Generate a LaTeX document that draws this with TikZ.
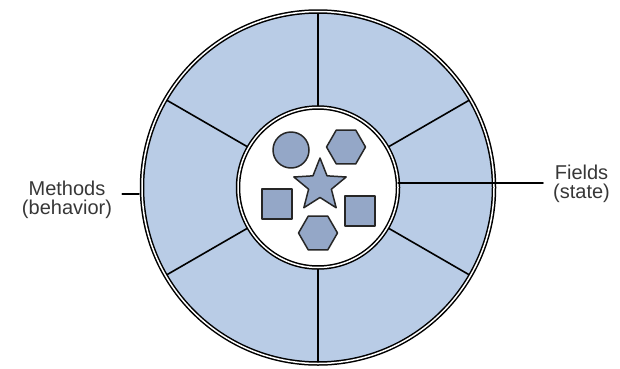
\documentclass[tikz,border=0pt]{standalone}
\usepackage{fontspec}
\setmainfont{Liberation Sans}
\usetikzlibrary{shapes.geometric,calc}

\definecolor{ringblue}{RGB}{185,204,230}
\definecolor{shapeblue}{RGB}{148,167,199}
\definecolor{labelgray}{RGB}{55,55,55}

\tikzset{
  ringline/.style={draw=black, double=white, line width=1.5pt, double distance=1.5pt},
  spoke/.style={line width=1.6pt},
  part/.style={draw=black!85, fill=shapeblue, line width=1.5pt, inner sep=0pt},
  label/.style={text=labelgray, align=center, font=\fontsize{20}{19}\selectfont, inner sep=0pt}
}

\begin{document}
\begin{tikzpicture}[line cap=round,line join=round,x=1pt,y=1pt]
  \useasboundingbox (0,0) rectangle (620,368);
  \coordinate (c) at (318,180.5);

  % blue ring
  \fill[ringblue] (c) circle (176);

  % spokes between the two circles
  \draw[spoke] ($(c)+(90:80)$) -- ($(c)+(90:176)$);
  \draw[spoke] ($(c)+(270:80)$) -- ($(c)+(270:176)$);
  \draw[spoke] ($(c)+(30:80)$) -- ($(c)+(30:176)$);
  \draw[spoke] ($(c)+(150:80)$) -- ($(c)+(150:176)$);
  \draw[spoke] ($(c)+(210:80)$) -- ($(c)+(210:176)$);
  \draw[spoke] ($(c)+(330:80)$) -- ($(c)+(330:176)$);

  \draw[ringline] (c) circle (176);
  \fill[white] (c) circle (80);
  \draw[ringline] (c) circle (80);

  % fields inside the core
  \node[part, circle, minimum size=36pt] (dot) at (291,218) {};
  \node[part, regular polygon, regular polygon sides=6, minimum size=39pt] (hexa) at (346,221) {};
  \node[part, star, star points=5, star point ratio=2.3, minimum size=55pt] (starfield) at (320,182.5) {};
  \node[part, rectangle, minimum size=30pt] (boxa) at (277,164) {};
  \node[part, rectangle, minimum size=30pt] (boxb) at (360,157) {};
  \node[part, regular polygon, regular polygon sides=6, minimum size=39pt] (hexb) at (318,135) {};

  % labels
  \node[label] (methods) at (67,168) {Methods\\(behavior)};
  \node[label, anchor=west] (fields) at (553,184) {Fields\\(state)};

  \coordinate (mring) at (139,174);
  \coordinate (fcore) at (398,185);
  \draw[line width=1.5pt] (mring) -- ([xshift=10pt]methods.east |- mring);
  \draw[line width=1.5pt] (fcore) -- ([xshift=-10pt]fields.west |- fcore);
\end{tikzpicture}
\end{document}
